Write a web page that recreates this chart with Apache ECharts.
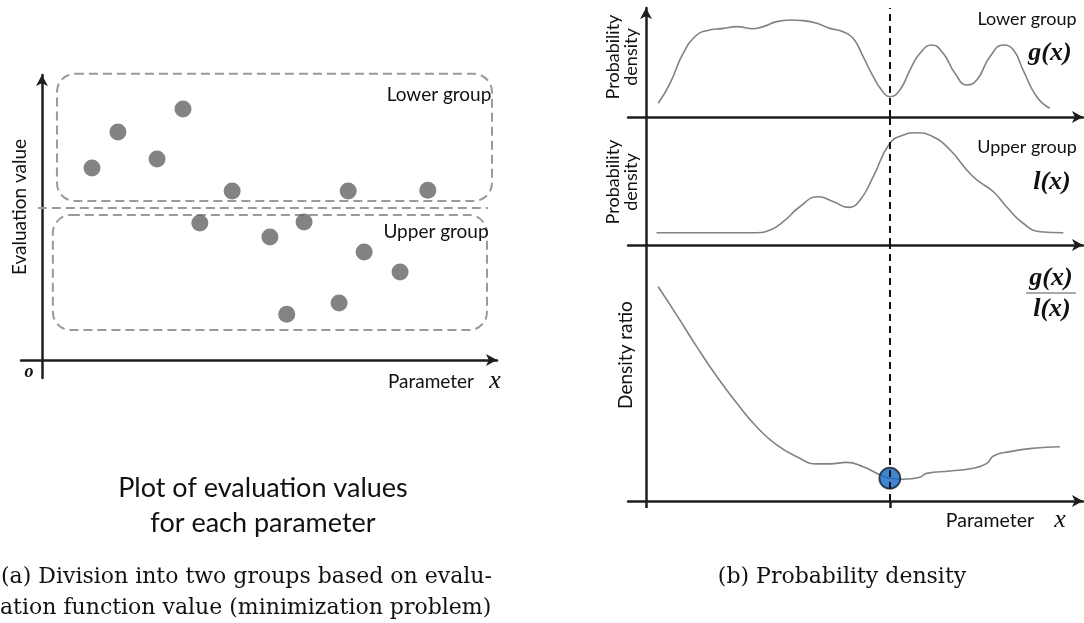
<!DOCTYPE html>
<html><head><meta charset="utf-8">
<script src="https://cdn.jsdelivr.net/npm/echarts@6/dist/echarts.min.js"></script>
<style>html,body{margin:0;padding:0;background:#fff}#c{width:1084px;height:623px}</style>
</head><body><div id="c"></div>
<script>
// ---- Panel (a): evaluation values for each parameter ----
var evalX = [11.0, 16.7, 25.3, 31.0, 41.8, 34.7, 50.1, 57.6, 53.8, 65.3, 67.3, 70.8, 78.7, 84.8];
var evalY = [67.4, 80.0, 70.5, 88.1, 59.3, 48.1, 43.2, 48.4, 16.1, 20.0, 59.3, 37.9, 30.9, 59.6];
var splitValue = 53.3;
var lowerBox = [3.3, 55.8, 98.9, 100.4];   // x1, y1, x2, y2 (data units)
var upperBox = [2.4, 10.5, 97.8, 50.9];

// ---- Panel (b): densities ----
var gX = [2.8,5.5,8.5,11.6,13.9,17.7,20.8,24.6,26.8,29.9,33.0,36.0,39.1,42.1,45.1,47.4,49.7,52.0,53.9,55.8,58.1,60.4,62.7,65.4,68.0,70.7,73.4,75.7,78.7,81.8,84.1,86.3,89.4,92.4];
var gY = [12.6,30.9,58.4,75.2,79.2,81.3,82.9,81.0,82.9,87.5,89.0,88.4,86.0,81.3,78.3,72.2,55.3,37.0,24.8,18.6,24.8,43.1,58.4,66.1,58.4,40.1,29.4,33.9,55.3,66.1,61.5,43.1,18.6,8.0];
var lX = [2.4,25.3,28.4,31.4,35.2,39.4,42.9,46.3,49.0,52.0,55.8,58.9,61.6,65.7,69.6,73.4,75.7,79.5,82.5,86.3,90.2,95.5];
var lY = [9.6,9.6,11.7,18.2,29.9,37.7,33.8,29.4,35.2,53.4,79.5,85.9,87.7,84.6,74.2,58.6,50.8,41.6,29.9,17.0,10.4,9.6];
var rX = [2.8,7.0,11.6,16.2,20.8,25.3,29.9,34.5,39.1,42.1,45.9,49.7,53.6,55.8,58.9,62.7,64.2,69.6,74.9,78.0,79.5,83.3,88.6,94.7];
var rY = [83.7,72.7,60.3,48.6,38.2,29.0,21.9,17.3,14.5,14.5,15.1,13.4,10.2,8.9,8.5,9.3,10.8,11.7,12.8,14.7,17.6,19.3,20.6,21.2];
var bestX = 55.8, bestY = 8.9;

function zip(a, b) { return a.map(function (v, i) { return [v, b[i]]; }); }

var AX = '#1e1e1e', CURVE = '#828282', DASH = '#9a9a9a';
var sans = 'Lato', serif = 'Liberation Serif', capSerif = 'DejaVu Serif';

function axisBase(extra) {
  var o = {
    type: 'value', splitLine: { show: false }, axisLabel: { show: false }, axisTick: { show: false },
    axisLine: { show: true, onZero: true, lineStyle: { color: AX, width: 2.5 } }
  };
  for (var k in extra) o[k] = extra[k];
  return o;
}
var arrowLine = { show: true, onZero: true, symbol: ['none', 'arrow'], symbolSize: [9, 11], lineStyle: { color: AX, width: 2.5 } };

var chart = echarts.init(document.getElementById('c'), null, { renderer: 'canvas' });

var option = {
  animation: false,
  grid: [
    { left: 21, top: 75, width: 476, height: 303 },
    { left: 628, top: 8, width: 455, height: 109 },
    { left: 628, top: 117, width: 455, height: 128 },
    { left: 628, top: 245, width: 455, height: 256 }
  ],
  xAxis: [
    axisBase({ gridIndex: 0, min: -4.6, max: 100, axisLine: arrowLine }),
    axisBase({ gridIndex: 1, min: -4.12, max: 100, axisLine: arrowLine }),
    axisBase({ gridIndex: 2, min: -4.12, max: 100, axisLine: arrowLine }),
    axisBase({ gridIndex: 3, min: -4.12, max: 100, axisLine: arrowLine,
      axisTick: { show: true, customValues: [0, bestX], length: 7, lineStyle: { color: AX, width: 2.5 } } })
  ],
  yAxis: [
    axisBase({ gridIndex: 0, min: -6.3, max: 100, axisLine: arrowLine }),
    axisBase({ gridIndex: 1, min: 0, max: 100, axisLine: arrowLine }),
    axisBase({ gridIndex: 2, min: 0, max: 100 }),
    axisBase({ gridIndex: 3, min: 0, max: 100 })
  ],
  series: [
    {
      type: 'scatter', xAxisIndex: 0, yAxisIndex: 0, data: zip(evalX, evalY), symbolSize: 17,
      itemStyle: { color: '#646464' }, z: 3,
      markLine: {
        silent: true, symbol: 'none', label: { show: false },
        lineStyle: { color: DASH, width: 2, type: [9, 5] },
        data: [[{ coord: [-0.9, splitValue] }, { coord: [98, splitValue] }]]
      }
    },
    {
      type: 'line', xAxisIndex: 1, yAxisIndex: 1, data: zip(gX, gY), smooth: 0.5, showSymbol: false,
      lineStyle: { color: CURVE, width: 1.6 },
      markLine: { silent: true, symbol: 'none', label: { show: false }, lineStyle: { color: '#111', width: 2, type: [7, 5] }, data: [{ xAxis: bestX }] }
    },
    {
      type: 'line', xAxisIndex: 2, yAxisIndex: 2, data: zip(lX, lY), smooth: 0.5, showSymbol: false,
      lineStyle: { color: CURVE, width: 1.6 },
      markLine: { silent: true, symbol: 'none', label: { show: false }, lineStyle: { color: '#111', width: 2, type: [7, 5] }, data: [{ xAxis: bestX }] }
    },
    {
      type: 'line', xAxisIndex: 3, yAxisIndex: 3, data: zip(rX, rY), smooth: 0.5, showSymbol: false,
      lineStyle: { color: CURVE, width: 1.6 },
      markLine: { silent: true, symbol: 'none', label: { show: false }, lineStyle: { color: '#111', width: 2, type: [7, 5] }, data: [{ xAxis: bestX }], z: 10 }
    },
    {
      type: 'scatter', xAxisIndex: 3, yAxisIndex: 3, data: [[bestX, bestY]], symbolSize: 21, z: 4,
      itemStyle: { color: '#1167c4', borderColor: '#0d1a2a', borderWidth: 1.8 }
    }
  ]
};
chart.setOption(option);

function px(gi, x, y) { return chart.convertToPixel({ gridIndex: gi }, [x, y]); }
function boxRect(b) {
  var p1 = px(0, b[0], b[3]), p2 = px(0, b[2], b[1]);
  return {
    type: 'rect', silent: true, z: 1,
    shape: { x: p1[0], y: p1[1], width: p2[0] - p1[0], height: p2[1] - p1[1], r: 18 },
    style: { fill: 'none', stroke: DASH, lineWidth: 2, lineDash: [9, 5] }
  };
}
function txt(x, y, s, font, extra) {
  var o = { type: 'text', x: x, y: y, silent: true, z: 20,
    style: { text: s, font: font, fill: '#111', align: 'center', verticalAlign: 'middle' } };
  if (extra) for (var k in extra) o.style[k] = extra[k];
  return o;
}
function rtxt(x, y, s, font, lh) {
  return { type: 'text', x: x, y: y, rotation: Math.PI / 2, silent: true, z: 20,
    style: { text: s, font: font, fill: '#111', align: 'center', verticalAlign: 'middle', lineHeight: lh || 17 } };
}

var graphics = [
  boxRect(lowerBox), boxRect(upperBox),
  // panel (a) texts
  txt(439, 95, 'Lower group', '19px ' + sans),
  txt(436, 232, 'Upper group', '19px ' + sans),
  rtxt(20, 207, 'Evaluation value', '19px ' + sans),
  txt(29, 372, 'o', 'italic bold 18px ' + serif),
  txt(431, 382, 'Parameter', '19px ' + sans),
  txt(495, 381, 'x', 'italic 26px ' + serif),
  txt(263, 488, 'Plot of evaluation values', '27px ' + sans),
  txt(263, 523, 'for each parameter', '27px ' + sans),
  txt(1, 577, '(a) Division into two groups based on evalu-', '22px ' + capSerif, { align: 'left' }),
  txt(0, 608, 'ation function value (minimization problem)', '22px ' + capSerif, { align: 'left' }),
  // panel (b) texts
  rtxt(622, 57, 'Probability\ndensity', '18px ' + sans, 18),
  rtxt(622, 182, 'Probability\ndensity', '18px ' + sans, 18),
  rtxt(626, 355, 'Density ratio', '19px ' + sans),
  txt(1027, 19, 'Lower group', '18px ' + sans),
  txt(1050, 53, 'g(x)', 'italic bold 26px ' + serif),
  txt(1027, 147, 'Upper group', '18px ' + sans),
  txt(1052, 182, 'l(x)', 'italic bold 26px ' + serif),
  txt(1051, 278, 'g(x)', 'italic bold 26px ' + serif),
  { type: 'line', silent: true, z: 20, shape: { x1: 1026, y1: 293, x2: 1076, y2: 293 }, style: { stroke: '#555', lineWidth: 1.2 } },
  txt(1052, 309, 'l(x)', 'italic bold 26px ' + serif),
  txt(990, 521, 'Parameter', '19.5px ' + sans),
  txt(1060, 520, 'x', 'italic 26px ' + serif),
  txt(842, 577, '(b) Probability density', '22px ' + capSerif)
];
chart.setOption({ graphic: graphics });
</script></body></html>
